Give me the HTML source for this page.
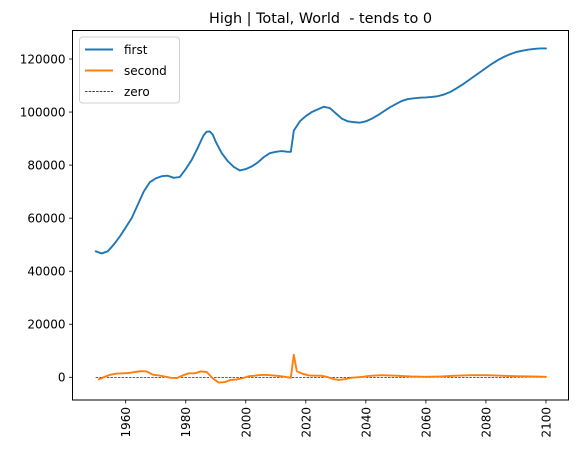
<!DOCTYPE html>
<html><head><meta charset="utf-8"><style>
body{margin:0;background:#fff;width:581px;height:455px;overflow:hidden}
text{font-family:"DejaVu Sans","Liberation Sans",sans-serif;white-space:pre}
</style></head><body>
<svg id="chart" width="581" height="455" xmlns="http://www.w3.org/2000/svg"></svg>
<script>
const firstYears=[1950,1952,1954,1956,1958,1960,1962,1964,1966,1968,1970,1972,1974,1976,1978,1980,1982,1984,1985,1986,1987,1988,1989,1990,1992,1994,1996,1998,2000,2002,2004,2006,2008,2010,2012,2014,2015,2016,2018,2020,2022,2024,2026,2028,2030,2032,2034,2036,2038,2040,2042,2044,2046,2048,2050,2052,2054,2056,2058,2060,2062,2064,2066,2068,2070,2072,2074,2076,2078,2080,2082,2084,2086,2088,2090,2092,2094,2096,2098,2100];
const firstValues=[47500,46700,47500,50000,53000,56500,60000,65000,70000,73500,75000,75800,76000,75200,75500,78500,82000,86500,89000,91300,92600,92700,91500,88800,84500,81500,79300,78000,78500,79500,81000,83000,84500,85000,85300,85000,85000,93000,96500,98500,100000,101000,102000,101500,99500,97500,96500,96200,96000,96500,97500,98800,100300,101800,103000,104200,104900,105200,105400,105500,105700,106000,106600,107500,108800,110200,111800,113400,115000,116600,118200,119600,120800,121800,122600,123100,123500,123800,124000,124000];
const secondYears=[1951,1953,1955,1957,1959,1961,1963,1965,1967,1969,1971,1973,1975,1977,1979,1981,1983,1985,1987,1989,1991,1993,1995,1997,1999,2001,2003,2005,2007,2009,2011,2013,2015,2016,2017,2019,2021,2023,2025,2027,2029,2031,2033,2035,2037,2039,2041,2045,2050,2055,2060,2065,2070,2075,2080,2085,2090,2095,2100];
const secondValues=[-800,200,1000,1400,1500,1600,2000,2300,2200,1000,700,300,-200,-300,700,1500,1500,2200,2000,-400,-2000,-1800,-1000,-800,-300,400,600,900,900,700,500,200,-200,8500,2300,1300,700,600,600,200,-600,-1000,-700,-200,0,200,500,800,600,300,200,300,600,800,800,600,400,300,200];
const xTicks=[1960,1980,2000,2020,2040,2060,2080,2100];
const yTicks=[0,20000,40000,60000,80000,100000,120000];

const svg=document.getElementById('chart');
const NS='http://www.w3.org/2000/svg';
const L=72.5,R=568.5,T=30.5,B=400;
const xs=y=>125.7+(y-1960)*3.002;
const ys=v=>377.3-v*(53.05/20000);
function mk(tag,attrs,parent){const e=document.createElementNS(NS,tag);for(const k in attrs)e.setAttribute(k,attrs[k]);(parent||svg).appendChild(e);return e;}

const title=mk('text',{x:(L+R)/2,y:23,'text-anchor':'middle','font-size':14.4});
title.textContent='High | Total, World  - tends to 0';



const zero=mk('line',{x1:xs(1950),x2:xs(2100),y1:ys(0),y2:ys(0),stroke:'#000','stroke-width':0.7,'stroke-dasharray':'2.5,1.2'});



function line(years,vals,color,name){
  const d=years.map((y,i)=>(i?'L':'M')+xs(y).toFixed(2)+','+ys(vals[i]).toFixed(2)).join('');
  const p=mk('path',{d:d,fill:'none',stroke:color,'stroke-width':1.9,'stroke-linejoin':'round','stroke-linecap':'round'});
  
  
}
line(firstYears,firstValues,'#1f77b4','first-series-line');
line(secondYears,secondValues,'#ff7f0e','second-series-line');

const frame=mk('rect',{x:L,y:T,width:R-L,height:B-T,fill:'none',stroke:'#000','stroke-width':1});



xTicks.forEach(t=>{
  const x=xs(t);
  const tk=mk('line',{x1:x,x2:x,y1:B,y2:B+3.5,stroke:'#000','stroke-width':0.8});
  
  
  const tx=mk('text',{x:0,y:0,'font-size':12,'text-anchor':'end',transform:`translate(${x+4.5},${B+7}) rotate(-90)`});
  tx.textContent=t;
  
  
});
yTicks.forEach(t=>{
  const y=ys(t);
  const tk=mk('line',{x1:L-3.5,x2:L,y1:y,y2:y,stroke:'#000','stroke-width':0.8});
  
  
  const tx=mk('text',{x:L-7,y:y+4.3,'font-size':12,'text-anchor':'end'});
  tx.textContent=t;
  
  
});

const lg=mk('g',{});


mk('rect',{x:79.5,y:37,width:100,height:66,rx:3,fill:'#fff',stroke:'#ccc','stroke-width':1,opacity:0.9},lg);
const entries=[['first','#1f77b4',''],['second','#ff7f0e',''],['zero','#000','2.5,1.2']];
entries.forEach((e,i)=>{
  const y=49.5+i*21;
  const g=mk('g',{},lg);
  
  
  mk('line',{x1:85,x2:113,y1:y,y2:y,stroke:e[1],'stroke-width':e[2]?0.7:1.9,'stroke-dasharray':e[2]||'none'},g);
  const t=mk('text',{x:124,y:y+4.5,'font-size':12},g);
  t.textContent=e[0];
});
</script>
</body></html>
